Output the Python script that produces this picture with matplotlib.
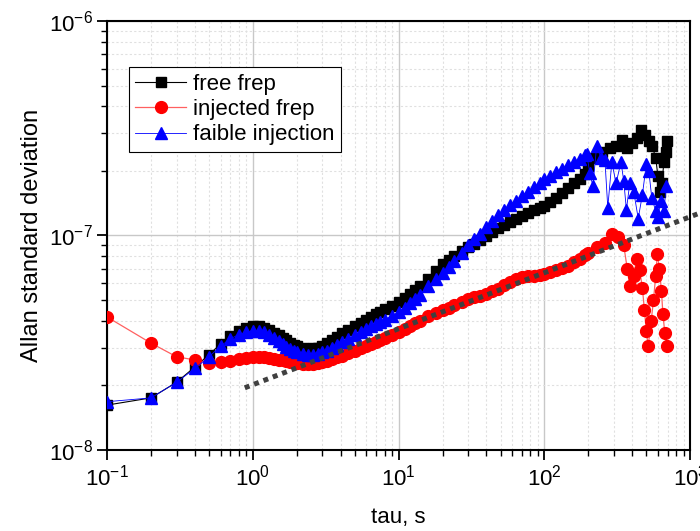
import numpy as np
import matplotlib
matplotlib.use("Agg")
import matplotlib.pyplot as plt

plt.rcParams["font.family"] = ["Liberation Sans", "DejaVu Sans"]
plt.rcParams["mathtext.default"] = "regular"

# averaging times shared by the smooth part of all three curves, s
tau = [0.1, 0.2, 0.3, 0.4, 0.5, 0.6, 0.7, 0.8, 0.9, 1.0,
       1.1, 1.2, 1.3, 1.4, 1.5, 1.6, 1.7, 1.8, 1.9, 2.0,
       2.2, 2.4, 2.6, 2.8, 3.0, 3.2, 3.5, 3.8, 4.1, 4.5,
       5.0, 5.5, 6.0, 6.5, 7.0, 7.5, 8, 9, 10,
       11, 12, 13, 14, 16, 18, 20, 22, 24, 27, 30, 33, 36, 40,
       44, 48, 53, 58, 64, 70, 77, 85, 93, 100,
       110, 120, 132, 145, 160, 175, 190]

# Allan deviation, units of 1e-8
free_frep = [1.62, 1.75, 2.07, 2.44, 2.78, 3.12, 3.4, 3.6, 3.72, 3.8,
             3.8, 3.72, 3.62, 3.52, 3.42, 3.32, 3.24, 3.16, 3.1, 3.05,
             3.0, 2.97, 2.98, 3.0, 3.06, 3.14, 3.25, 3.38, 3.5, 3.62,
             3.78, 3.92, 4.05, 4.18, 4.3, 4.4, 4.52, 4.7, 4.9,
             5.1, 5.35, 5.55, 5.8, 6.3, 6.85, 7.35, 7.7, 8.05, 8.5, 8.85, 9.15, 9.5, 9.95,
             10.4, 10.8, 11.2, 11.5, 11.9, 12.3, 12.7, 13.1, 13.5, 13.7,
             14.3, 15.0, 15.7, 16.6, 17.5, 18.3, 19.3]

injected_frep = [4.17, 3.15, 2.72, 2.63, 2.55, 2.57, 2.6, 2.65, 2.68, 2.72,
                 2.72, 2.7, 2.68, 2.66, 2.64, 2.62, 2.6, 2.58, 2.56, 2.55,
                 2.53, 2.52, 2.52, 2.54, 2.57, 2.6, 2.65, 2.7, 2.75, 2.82,
                 2.9, 2.98, 3.05, 3.12, 3.2, 3.26, 3.32, 3.45, 3.55,
                 3.68, 3.8, 3.9, 4.0, 4.2, 4.35, 4.48, 4.6, 4.75, 4.92, 5.05, 5.15, 5.25, 5.35,
                 5.5, 5.65, 5.85, 6.05, 6.25, 6.4, 6.45, 6.5, 6.55, 6.6,
                 6.75, 6.9, 7.05, 7.2, 7.5, 7.8, 8.1]

faible_injection = [1.68, 1.75, 2.07, 2.4, 2.72, 3.05, 3.3, 3.45, 3.55, 3.6,
                    3.6, 3.55, 3.45, 3.33, 3.22, 3.12, 3.03, 2.96, 2.9, 2.85,
                    2.8, 2.78, 2.78, 2.8, 2.85, 2.9, 3.0, 3.1, 3.2, 3.3,
                    3.42, 3.55, 3.66, 3.77, 3.87, 3.96, 4.05, 4.22, 4.4,
                    4.6, 4.85, 5.05, 5.3, 5.8, 6.25, 6.7, 7.15, 7.6, 8.3, 9.0, 9.6, 10.2, 11.0,
                    11.7, 12.4, 13.1, 13.8, 14.5, 15.3, 16.0, 16.8, 17.5, 18.3,
                    19.0, 19.8, 20.5, 21.3, 22.0, 22.8, 23.6]

# noisy long-tau tails, each with its own tau values
free_tail_tau = [200, 220, 250, 280, 310, 340, 370, 400, 430, 460,
                 490, 520, 550, 580, 600, 620, 640, 660, 680, 690]
free_tail = [21.0, 23.0, 24.5, 25.5, 26.0, 28.0, 25.5, 27.0, 28.5, 31.0,
             29.5, 27.5, 26.0, 23.0, 19.0, 16.0, 17.5, 22.0, 24.5, 27.5]

injected_tail_tau = [200, 230, 260, 290, 320, 350, 370, 385, 410, 430, 450, 470,
                     485, 500, 515, 540, 560, 580, 595, 615, 635, 650, 670, 690]
injected_tail = [8.3, 8.8, 9.2, 10.2, 9.8, 9.0, 7.0, 5.8, 6.5, 7.8, 6.9, 5.7,
                 4.5, 3.6, 3.05, 4.0, 5.0, 6.5, 8.2, 7.0, 5.5, 4.3, 3.5, 3.05]

faible_tail_tau = [195, 205, 215, 228, 245, 260, 272, 290, 310, 335, 350, 365,
                   385, 410, 440, 470, 500, 520, 545, 580, 600, 630, 660, 685]
faible_tail = [24.0, 19.5, 17.0, 26.0, 23.0, 22.5, 13.5, 22.0, 17.5, 22.0, 18.0, 13.2,
               17.5, 16.0, 12.0, 15.5, 21.5, 20.0, 15.0, 13.0, 12.2, 14.5, 13.0, 17.0]

# tau^(1/4)-like guide line
guide_tau = [0.88, 1120]
guide_val = [1.95, 12.6]

fig = plt.figure(figsize=(7.0, 5.31), dpi=100)
ax = fig.add_axes([0.153, 0.1525, 0.833, 0.808])

scale = 1e-8
ax.plot(tau + free_tail_tau, np.array(free_frep + free_tail) * scale,
        color="black", lw=0.8, marker="s", ms=7, label="free frep", zorder=3)
ax.plot(tau + injected_tail_tau, np.array(injected_frep + injected_tail) * scale,
        color="#ff6060", lw=0.9, marker="o", ms=8.5, mfc="red", mec="red",
        label="injected frep", zorder=4)
ax.plot(tau + faible_tail_tau, np.array(faible_injection + faible_tail) * scale,
        color="blue", lw=0.6, marker="^", ms=8.5, label="faible injection", zorder=5)

ax.plot(guide_tau, np.array(guide_val) * scale, color="#404040", lw=3.6,
        ls=(0, (1, 1)), dash_capstyle="butt", clip_on=False, zorder=6)

ax.set_xscale("log")
ax.set_yscale("log")
ax.set_xlim(0.1, 1000)
ax.set_ylim(1e-8, 1e-6)

ax.grid(True, which="major", color="#c8c8c8", lw=1.0, ls="-")
ax.grid(True, which="minor", color="#e0e0e0", lw=0.8, ls=(0, (2, 2)))
ax.set_axisbelow(True)

ax.tick_params(which="major", direction="out", length=7, width=1.3, labelsize=16)
ax.tick_params(which="minor", direction="out", length=4, width=1.0)
for s in ax.spines.values():
    s.set_linewidth(1.5)

ax.set_xlabel("tau, s", fontsize=16, labelpad=12)
ax.set_ylabel("Allan standard deviation", fontsize=17, labelpad=4)

leg = ax.legend(loc="upper left", bbox_to_anchor=(0.037, 0.893), fontsize=16,
                fancybox=False, framealpha=1, edgecolor="black",
                handlelength=2.3, borderpad=0.3, labelspacing=0.2,
                handletextpad=0.3, borderaxespad=0)
leg.get_frame().set_linewidth(0.8)

fig.savefig("out.png", dpi=100)
